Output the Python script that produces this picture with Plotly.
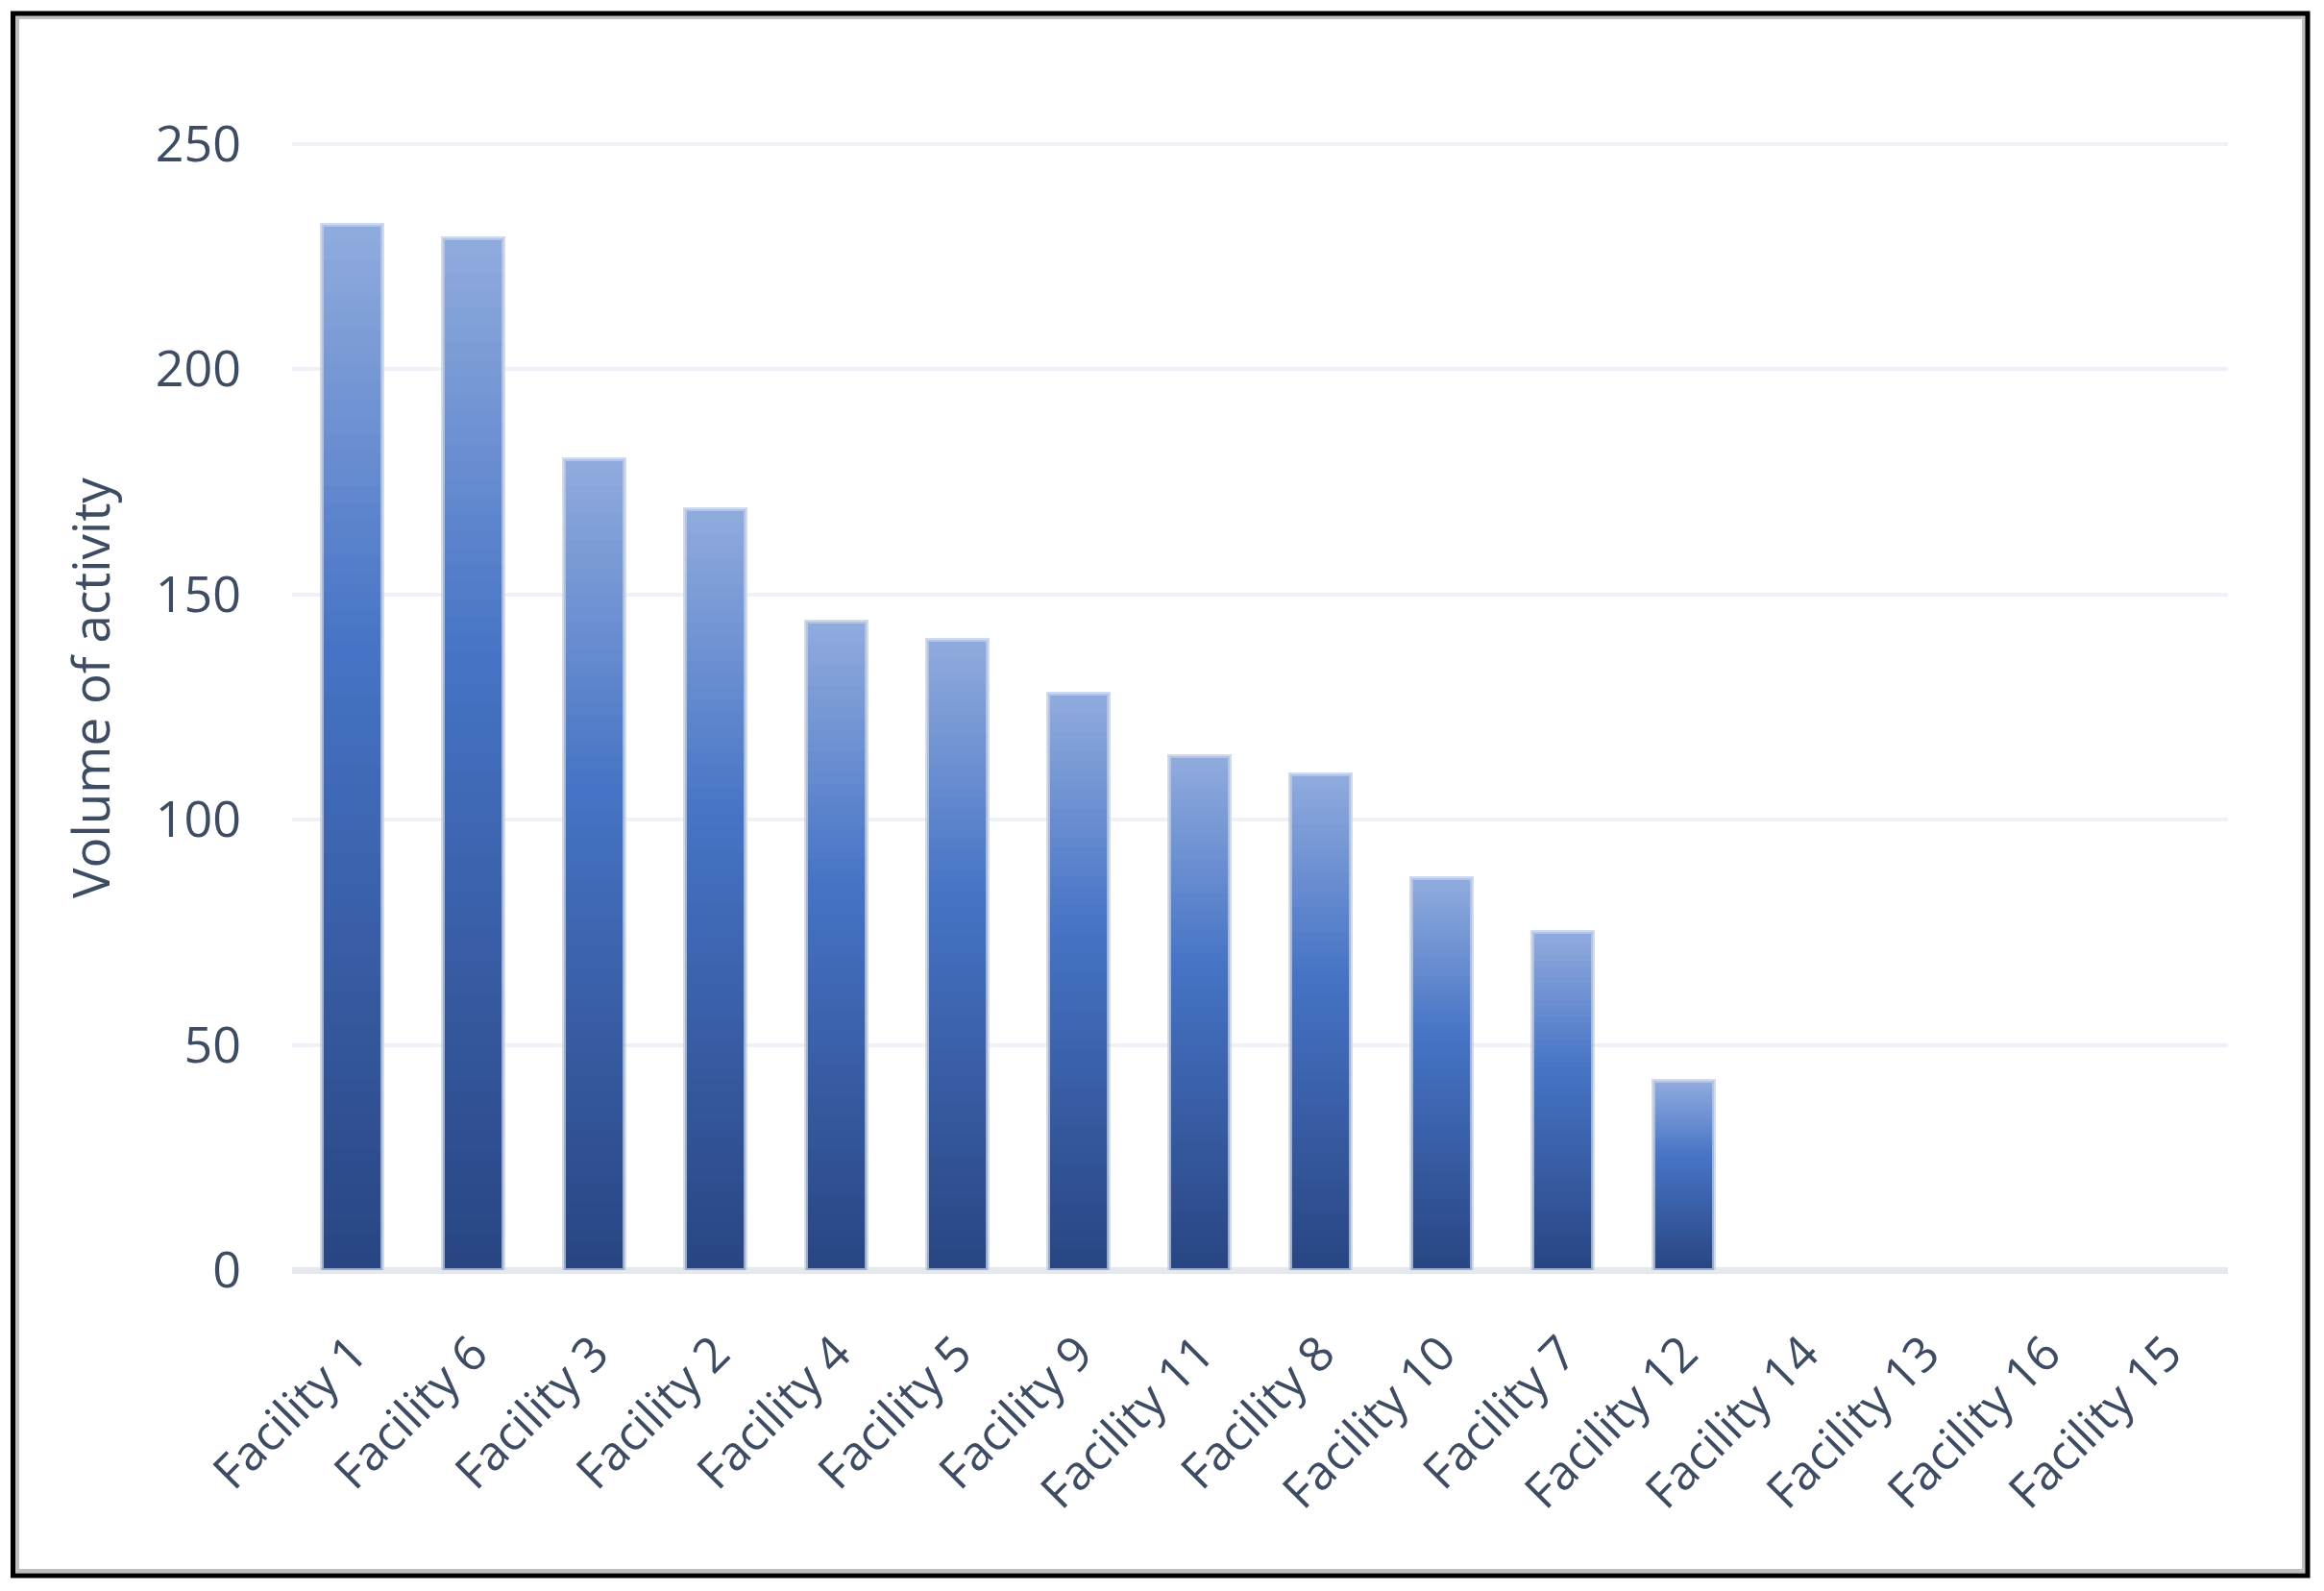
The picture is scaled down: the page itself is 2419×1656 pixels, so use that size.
import plotly.graph_objects as go

# ---- data ----
categories = ["Facility 1", "Facility 6", "Facility 3", "Facility 2", "Facility 4",
              "Facility 5", "Facility 9", "Facility 11", "Facility 8", "Facility 10",
              "Facility 7", "Facility 12", "Facility 14", "Facility 13", "Facility 16",
              "Facility 15"]
values = [232, 229, 180, 169, 144, 140, 128, 114, 110, 87, 75, 42, 0, 0, 0, 0]
y_ticks = [0, 50, 100, 150, 200, 250]
y_title = "Volume of activity"

# ---- style ----
OFF = 8  # default page body margin
W, H = 2419 - 2 * OFF, 1656 - 2 * OFF
L, R, T, B = 304 - OFF, 2319 - OFF, 147 - OFF, 1322 - OFF
TEXT = "#3E4C63"
FONT = "Open Sans"

# gradient stops (bottom -> top)
stops = [(0.0, (0x29, 0x45, 0x82)), (0.6, (0x46, 0x74, 0xC6)), (1.0, (0x91, 0xAB, 0xDD))]


def grad(t):
    for (t0, c0), (t1, c1) in zip(stops[:-1], stops[1:]):
        if t0 <= t <= t1:
            f = (t - t0) / (t1 - t0)
            return "rgb(%d,%d,%d)" % tuple(round(a + (b - a) * f) for a, b in zip(c0, c1))
    return "rgb(%d,%d,%d)" % stops[-1][1]


N = 60
fig = go.Figure()
for k in range(N):
    fig.add_trace(go.Bar(
        x=categories,
        y=[v / N for v in values],
        marker=dict(color=grad((k + 0.5) / N), line=dict(width=0)),
        showlegend=False,
        hoverinfo="skip",
    ))

# light outline around each (non-empty) bar
fig.add_trace(go.Bar(
    x=categories, y=[v if v > 0 else None for v in values], xaxis="x2",
    marker=dict(color="rgba(0,0,0,0)", line=dict(color="rgba(190,205,235,0.75)", width=4)),
    showlegend=False, hoverinfo="skip",
))

pw, ph = R - L, B - T


def px2x(p):
    return (p - OFF - L) / pw


def py2y(p):
    return (B - (p - OFF)) / ph


shapes = [
    dict(type="rect", xref="paper", yref="paper",
         x0=px2x(18), x1=px2x(2398), y0=py2y(18), y1=py2y(1635),
         line=dict(color="#BFBFBF", width=4), layer="below"),
    dict(type="rect", xref="paper", yref="paper",
         x0=px2x(13.5), x1=px2x(2402), y0=py2y(14), y1=py2y(1640),
         line=dict(color="#000000", width=5), layer="below"),
]

annotations = [
    dict(text=y_title, xref="paper", yref="paper", x=px2x(93), y=py2y(716),
         xanchor="center", yanchor="middle", textangle=-90, showarrow=False,
         font=dict(size=53, color=TEXT, family=FONT)),
]

fig.update_layout(
    width=W, height=H,
    margin=dict(l=L, r=W - R, t=T, b=H - B),
    paper_bgcolor="white", plot_bgcolor="white",
    barmode="stack", bargap=0.5,
    font=dict(family=FONT, color=TEXT, size=50),
    shapes=shapes,
    annotations=annotations,
    xaxis=dict(
        type="category", categoryorder="array", categoryarray=categories,
        tickangle=-45, tickfont=dict(size=50, color=TEXT, family=FONT),
        showgrid=False, showline=False, ticks="", ticklabelstandoff=46,
        range=[-0.5, len(categories) - 0.5],
    ),
    xaxis2=dict(
        type="category", overlaying="x", visible=False,
        categoryorder="array", categoryarray=categories,
        range=[-0.5, len(categories) - 0.5],
    ),
    yaxis=dict(
        range=[0, 250.6], tickvals=y_ticks, ticktext=[str(v) for v in y_ticks],
        tickfont=dict(size=52, color=TEXT, family=FONT),
        showgrid=True, gridcolor="#EEF1F8", gridwidth=4,
        zeroline=True, zerolinecolor="#E5E8ED", zerolinewidth=7,
        showline=False, ticks="", ticklabelstandoff=52,
    ),
)

fig.write_html("out.html")
